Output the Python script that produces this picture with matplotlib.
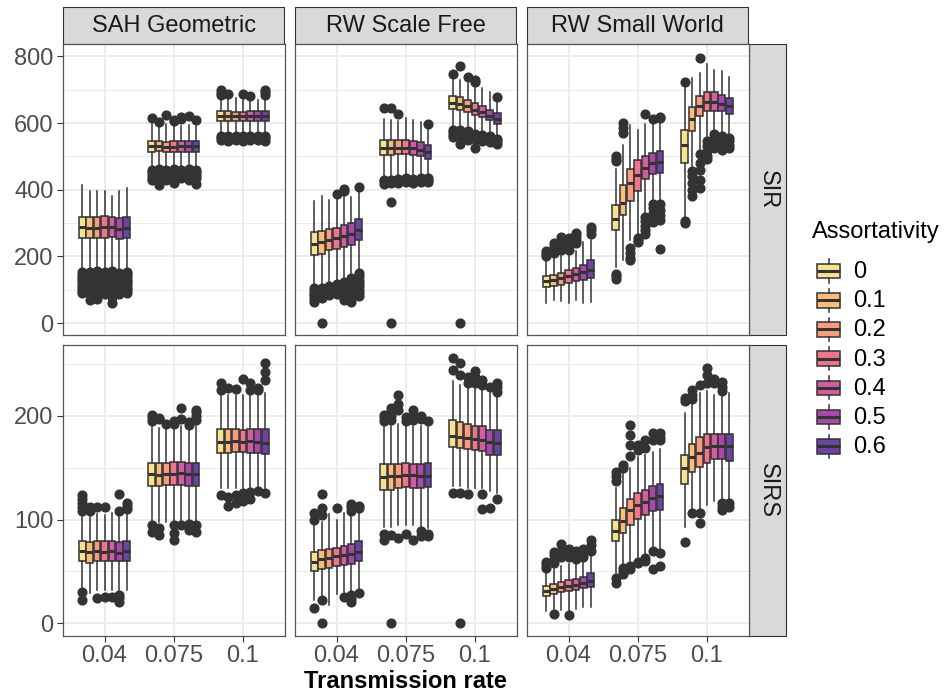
import matplotlib
matplotlib.use("Agg")
import matplotlib.pyplot as plt
from matplotlib.patches import Rectangle

plt.rcParams["font.family"] = ["Liberation Sans", "DejaVu Sans"]

rates = ["0.04", "0.075", "0.1"]
assortativity = ["0", "0.1", "0.2", "0.3", "0.4", "0.5", "0.6"]
networks = ["SAH Geometric", "RW Scale Free", "RW Small World"]
models = ["SIR", "SIRS"]
palette = ["#f5e390", "#fabd7c", "#f99d7d", "#ee758c", "#d45ca2", "#a649a8", "#6c44a3"]

# box statistics: one row per transmission rate, one column per assortativity level

# SAH Geometric / SIR
sah_sir_q1 = [[255, 255, 256, 256, 258, 252, 254],
              [514, 515, 512, 513, 514, 514, 514],
              [607, 607, 606, 606, 607, 607, 607]]
sah_sir_med = [[287, 286, 286, 288, 287, 282, 285],
               [530, 530, 528, 529, 530, 531, 530],
               [621, 621, 620, 620, 622, 621, 621]]
sah_sir_q3 = [[318, 318, 318, 320, 318, 315, 318],
              [546, 546, 544, 545, 546, 547, 546],
              [635, 635, 634, 634, 635, 635, 635]]
sah_sir_lo = [[162, 160, 162, 160, 162, 158, 160],
              [468, 466, 468, 468, 467, 468, 466],
              [566, 566, 565, 566, 566, 565, 566]]
sah_sir_hi = [[415, 395, 395, 395, 382, 396, 406],
              [596, 590, 598, 592, 590, 595, 592],
              [676, 672, 674, 674, 672, 670, 676]]
sah_sir_out = [
    [[152, 144, 136, 128, 120, 112, 104, 96, 90],
     [154, 146, 138, 130, 122, 114, 106, 98, 88, 68],
     [155, 147, 139, 131, 123, 115, 107, 99, 90, 72],
     [152, 144, 136, 128, 120, 112, 104, 96, 88],
     [156, 148, 140, 132, 124, 116, 108, 100, 92, 78, 60],
     [150, 142, 134, 126, 118, 110, 102, 94, 86],
     [154, 146, 138, 130, 122, 114, 106, 98, 90]],
    [[614, 460, 452, 444, 436, 430],
     [602, 462, 454, 446, 438, 414],
     [625, 460, 452, 444, 436, 430],
     [605, 608, 462, 454, 446, 438, 420],
     [612, 618, 460, 452, 444, 436],
     [620, 462, 454, 446, 438, 430],
     [610, 460, 452, 444, 436, 417]],
    [[690, 700, 685, 560, 554, 548],
     [686, 562, 556, 550, 545],
     [560, 554, 548],
     [687, 562, 556, 550, 545],
     [681, 560, 554, 548],
     [562, 556, 550],
     [683, 692, 698, 560, 554, 546]],
]

# RW Scale Free / SIR
sf_sir_q1 = [[205, 208, 218, 222, 228, 235, 248],
             [505, 505, 506, 506, 505, 500, 492],
             [642, 640, 632, 625, 618, 608, 598]]
sf_sir_med = [[238, 242, 250, 255, 262, 268, 280],
              [526, 526, 526, 525, 524, 520, 512],
              [660, 658, 650, 640, 632, 622, 613]]
sf_sir_q3 = [[272, 275, 282, 286, 294, 300, 312],
             [550, 550, 549, 548, 546, 543, 535],
             [680, 678, 670, 660, 650, 640, 630]]
sf_sir_lo = [[110, 112, 118, 125, 128, 140, 155],
             [440, 440, 442, 442, 440, 440, 442],
             [588, 585, 578, 575, 572, 566, 560]]
sf_sir_hi = [[365, 382, 369, 378, 388, 378, 395],
             [612, 610, 605, 615, 610, 602, 585],
             [735, 729, 720, 710, 706, 694, 672]]
sf_sir_out = [
    [[104, 96, 88, 80, 72, 64],
     [106, 98, 90, 82, 74, 0],
     [112, 105, 98, 90, 84],
     [386, 118, 110, 102, 95, 88],
     [396, 402, 122, 112, 104, 95, 86, 76, 68],
     [134, 124, 114, 104, 94, 84, 72, 64],
     [408, 150, 140, 130, 120, 110, 100, 90, 82]],
    [[645, 430, 425, 418],
     [645, 430, 420, 362, 0],
     [627, 432, 425, 420],
     [435, 428, 422],
     [432, 425, 420],
     [434, 428, 422],
     [597, 436, 430, 424]],
    [[746, 580, 572, 565, 558],
     [772, 578, 570, 560, 536, 0],
     [739, 575, 565, 556, 548],
     [724, 728, 568, 560, 552, 525],
     [565, 556, 546],
     [560, 550, 542],
     [679, 552, 545, 538]],
]

# RW Small World / SIR
sw_sir_q1 = [[108, 112, 115, 120, 125, 130, 135],
             [278, 325, 365, 397, 431, 448, 451],
             [481, 575, 620, 635, 637, 637, 627]]
sw_sir_med = [[127, 130, 135, 140, 146, 152, 160],
              [312, 359, 421, 444, 466, 481, 484],
              [535, 613, 650, 662, 662, 656, 652]]
sw_sir_q3 = [[142, 145, 150, 158, 165, 175, 188],
             [355, 415, 461, 488, 500, 511, 516],
             [580, 647, 682, 694, 692, 684, 674]]
sw_sir_lo = [[61, 69, 66, 59, 69, 59, 64],
             [168, 188, 248, 263, 330, 360, 362],
             [317, 468, 516, 548, 570, 570, 566]]
sw_sir_hi = [[190, 195, 200, 210, 215, 243, 250],
             [461, 535, 593, 580, 598, 600, 605],
             [709, 734, 750, 776, 759, 755, 738]]
sw_sir_out = [
    [[200, 208, 216],
     [210, 220, 230, 240],
     [218, 228, 240, 250, 257],
     [220, 232, 244, 255],
     [240, 250, 260, 269],
     [],
     [268, 278, 287]],
    [[485, 492, 500, 148, 140, 133],
     [570, 585, 600],
     [224, 210, 196, 188],
     [254, 248, 242],
     [627, 317, 305, 292, 280, 268],
     [613, 356, 345, 330, 315, 302],
     [614, 618, 358, 340, 325, 310, 223]],
    [[723, 306, 300],
     [456, 440, 420, 400, 380],
     [794, 506, 480, 460, 430, 406],
     [545, 530, 515, 500, 492],
     [566, 555, 540, 525],
     [560, 548, 535, 520],
     [555, 545, 535, 525]],
]

# SAH Geometric / SIRS
sah_sirs_q1 = [[60, 58, 60, 60, 60, 60, 60],
               [132, 132, 133, 133, 133, 132, 132],
               [164, 164, 165, 165, 164, 164, 163]]
sah_sirs_med = [[70, 69, 70, 69, 70, 68, 70],
                [144, 143, 144, 144, 145, 144, 144],
                [175, 175, 176, 175, 176, 175, 174]]
sah_sirs_q3 = [[79, 78, 79, 79, 79, 78, 79],
               [155, 155, 155, 156, 156, 155, 155],
               [187, 187, 187, 186, 187, 187, 187]]
sah_sirs_lo = [[33, 29, 32, 32, 32, 30, 32],
               [98, 98, 98, 98, 98, 98, 98],
               [130, 130, 130, 130, 130, 130, 130]]
sah_sirs_hi = [[104, 104, 105, 104, 106, 106, 106],
               [190, 188, 190, 188, 190, 188, 190],
               [221, 220, 220, 220, 222, 222, 222]]
sah_sirs_out = [
    [[108, 112, 116, 120, 124, 30, 22],
     [108, 112],
     [112, 24],
     [112, 25],
     [25],
     [108, 125, 27, 24, 20],
     [110, 113, 116]],
    [[195, 198, 201, 95, 88],
     [198, 197, 92, 85],
     [192],
     [192, 195, 95, 87, 80],
     [197, 208, 95],
     [191, 194, 96, 90],
     [196, 200, 204, 206, 95, 88]],
    [[225, 232, 124],
     [227, 122, 113],
     [226, 124, 116],
     [236, 126, 118],
     [225, 232, 127, 120],
     [227, 225, 128],
     [235, 242, 251, 126]],
]

# RW Scale Free / SIRS
sf_sirs_q1 = [[50, 52, 53, 55, 56, 57, 60],
              [129, 129, 130, 131, 130, 130, 131],
              [170, 169, 168, 167, 166, 162, 162]]
sf_sirs_med = [[59, 62, 63, 65, 66, 67, 69],
               [141, 142, 142, 143, 143, 142, 142],
               [181, 180, 179, 178, 177, 175, 174]]
sf_sirs_q3 = [[69, 71, 72, 73, 74, 76, 79],
              [154, 154, 154, 155, 154, 154, 155],
              [196, 194, 192, 190, 190, 186, 186]]
sf_sirs_lo = [[22, 25, 18, 28, 30, 30, 32],
              [93, 93, 95, 95, 95, 92, 92],
              [132, 132, 130, 130, 130, 128, 126]]
sf_sirs_hi = [[96, 98, 105, 100, 106, 104, 106],
              [190, 190, 192, 190, 190, 190, 192],
              [234, 230, 228, 226, 226, 222, 220]]
sf_sirs_out = [
    [[100, 106, 15],
     [104, 111, 125, 22, 0],
     [],
     [111],
     [25],
     [108, 112, 115, 27, 23, 20],
     [111, 113, 29]],
    [[195, 198, 201, 86, 80],
     [196, 200, 205, 208, 85, 0],
     [206, 212, 220, 82],
     [195, 199, 86],
     [196, 200, 206, 80],
     [197, 200, 89, 84],
     [195, 86, 84]],
    [[244, 256, 126],
     [240, 251, 126, 0],
     [232, 238, 125],
     [232, 238, 243],
     [230, 235, 125, 110],
     [228, 111],
     [223, 228, 232, 120]],
]

# RW Small World / SIRS
sw_sirs_q1 = [[26, 28, 30, 31, 32, 34, 35],
              [79, 87, 95, 101, 104, 108, 109],
              [134, 146, 151, 155, 158, 158, 157]]
sw_sirs_med = [[31, 33, 35, 36, 37, 39, 41],
               [89, 99, 109, 114, 117, 121, 123],
               [150, 160, 164, 170, 171, 171, 171]]
sw_sirs_q3 = [[36, 38, 40, 42, 43, 45, 48],
              [100, 111, 120, 126, 129, 132, 134],
              [162, 173, 180, 183, 183, 183, 183]]
sw_sirs_lo = [[12, 14, 13, 12, 14, 16, 16],
              [48, 55, 60, 64, 67, 74, 72],
              [93, 110, 110, 114, 118, 121, 120]]
sw_sirs_hi = [[50, 52, 55, 57, 58, 60, 66],
              [130, 145, 150, 160, 162, 165, 168],
              [203, 212, 222, 224, 220, 221, 222]]
sw_sirs_out = [
    [[53, 56, 59],
     [58, 62, 66, 69, 9],
     [64, 70, 76],
     [64, 68, 72, 8],
     [62, 66, 70],
     [64, 68, 72],
     [70, 75, 80]],
    [[137, 142, 146, 44, 39],
     [150, 153, 53, 50, 47],
     [161, 172, 182, 191, 55, 52],
     [167, 172, 59, 58],
     [169, 177, 63, 60],
     [177, 184, 70, 52],
     [177, 180, 184, 68, 55]],
    [[214, 217, 78],
     [216, 220, 225, 106],
     [230, 106, 97],
     [232, 240, 246],
     [232, 236],
     [224, 228, 233, 116, 112, 109],
     [116, 112]],
]

panels = {
    ("SIR", "SAH Geometric"): (sah_sir_q1, sah_sir_med, sah_sir_q3, sah_sir_lo, sah_sir_hi, sah_sir_out),
    ("SIR", "RW Scale Free"): (sf_sir_q1, sf_sir_med, sf_sir_q3, sf_sir_lo, sf_sir_hi, sf_sir_out),
    ("SIR", "RW Small World"): (sw_sir_q1, sw_sir_med, sw_sir_q3, sw_sir_lo, sw_sir_hi, sw_sir_out),
    ("SIRS", "SAH Geometric"): (sah_sirs_q1, sah_sirs_med, sah_sirs_q3, sah_sirs_lo, sah_sirs_hi, sah_sirs_out),
    ("SIRS", "RW Scale Free"): (sf_sirs_q1, sf_sirs_med, sf_sirs_q3, sf_sirs_lo, sf_sirs_hi, sf_sirs_out),
    ("SIRS", "RW Small World"): (sw_sirs_q1, sw_sirs_med, sw_sirs_q3, sw_sirs_lo, sw_sirs_hi, sw_sirs_out),
}

# layout in pixels
W, H = 949, 696
col_x = [63, 295, 527]
panel_w = 221.5
row_y = [44, 345]
panel_h = 291
strip = 37
ylims = {"SIR": (-36, 837), "SIRS": (-12.4, 268.5)}
yticks = {"SIR": ([0, 200, 400, 600, 800], [100, 300, 500, 700]),
          "SIRS": ([0, 100, 200], [50, 150, 250])}

DARK = "#333333"
GRID = "#ebebeb"
FS = 17

fig = plt.figure(figsize=(W / 100, H / 100), dpi=100)
fig.patch.set_facecolor("white")

# overlay in pixel coordinates for strips, legend and axis title
ov = fig.add_axes([0, 0, 1, 1])
ov.set_xlim(0, W)
ov.set_ylim(H, 0)
ov.axis("off")

n = len(assortativity)
dodge = 0.75 / n
box_w = dodge * 0.9

for r, model in enumerate(models):
    for c, net in enumerate(networks):
        x0, y0 = col_x[c], row_y[r]
        ax = fig.add_axes([x0 / W, 1 - (y0 + panel_h) / H, panel_w / W, panel_h / H])
        q1, med, q3, lo, hi, out = panels[(model, net)]

        for j in range(n):
            stats = []
            for i in range(len(rates)):
                stats.append(dict(med=med[i][j], q1=q1[i][j], q3=q3[i][j],
                                  whislo=lo[i][j], whishi=hi[i][j], fliers=out[i][j]))
            pos = [i + 1 + (j - (n - 1) / 2) * dodge for i in range(len(rates))]
            ax.bxp(stats, positions=pos, widths=box_w, patch_artist=True,
                   showcaps=False, manage_ticks=False,
                   boxprops=dict(facecolor=palette[j], edgecolor=DARK, linewidth=1.1),
                   medianprops=dict(color=DARK, linewidth=2.2, solid_capstyle="butt"),
                   whiskerprops=dict(color=DARK, linewidth=1.1),
                   flierprops=dict(marker="o", markerfacecolor=DARK, markeredgecolor=DARK,
                                   markersize=6.3, linestyle="none"))

        ax.set_xlim(0.4, 3.6)
        ax.set_ylim(*ylims[model])
        major, minor = yticks[model]
        ax.set_yticks(major)
        ax.set_yticks(minor, minor=True)
        ax.set_xticks([1, 2, 3])
        ax.set_axisbelow(True)
        ax.grid(which="major", color=GRID, linewidth=1.3)
        ax.grid(which="minor", axis="y", color=GRID, linewidth=0.7)
        for s in ax.spines.values():
            s.set_color("#555555")
            s.set_linewidth(0.9)
        ax.tick_params(which="minor", length=0)
        ax.tick_params(which="major", length=4.3, width=0.8, color=DARK,
                       labelsize=FS, labelcolor="#4d4d4d", pad=2.5)
        if c == 0:
            ax.set_yticklabels([str(v) for v in major])
        else:
            ax.tick_params(axis="y", length=0, labelleft=False)
        if r == len(models) - 1:
            ax.set_xticklabels(rates)
        else:
            ax.tick_params(axis="x", length=0, labelbottom=False)

        # column strip
        if r == 0:
            ov.add_patch(Rectangle((x0, y0 - strip), panel_w, strip, facecolor="#d9d9d9",
                                   edgecolor=DARK, linewidth=0.8))
            ov.text(x0 + panel_w / 2, y0 - strip / 2 + 1, net, ha="center", va="center",
                    fontsize=FS, color="#1a1a1a")
        # row strip
        if c == len(networks) - 1:
            sx = x0 + panel_w + 0.5
            ov.add_patch(Rectangle((sx, y0), strip, panel_h, facecolor="#d9d9d9",
                                   edgecolor=DARK, linewidth=0.8))
            ov.text(sx + strip / 2, y0 + panel_h / 2, model, ha="center", va="center",
                    rotation=-90, fontsize=FS, color="#1a1a1a")

# shared x-axis title
ov.text(col_x[0] + (col_x[-1] + panel_w - col_x[0]) / 2, 681, "Transmission rate",
        ha="center", va="center", fontsize=FS, fontweight="bold", color="black")

# legend
ov.text(812, 232, "Assortativity", ha="left", va="center", fontsize=FS, color="black")
key = 29.2
for j, lab in enumerate(assortativity):
    cy = 271 + j * key
    kx = 814
    ov.plot([kx + key / 2] * 2, [cy - 0.4 * key, cy - 0.25 * key], color=DARK, lw=1.1)
    ov.plot([kx + key / 2] * 2, [cy + 0.25 * key, cy + 0.4 * key], color=DARK, lw=1.1)
    ov.add_patch(Rectangle((kx + 0.1 * key, cy - 0.25 * key), 0.8 * key, 0.5 * key,
                           facecolor=palette[j], edgecolor=DARK, linewidth=1.1))
    ov.plot([kx + 0.1 * key, kx + 0.9 * key], [cy, cy], color=DARK, lw=2.2,
            solid_capstyle="butt")
    ov.text(853, cy + 1, lab, ha="left", va="center", fontsize=FS, color="black")

fig.savefig("out.png", dpi=100, facecolor="white")
